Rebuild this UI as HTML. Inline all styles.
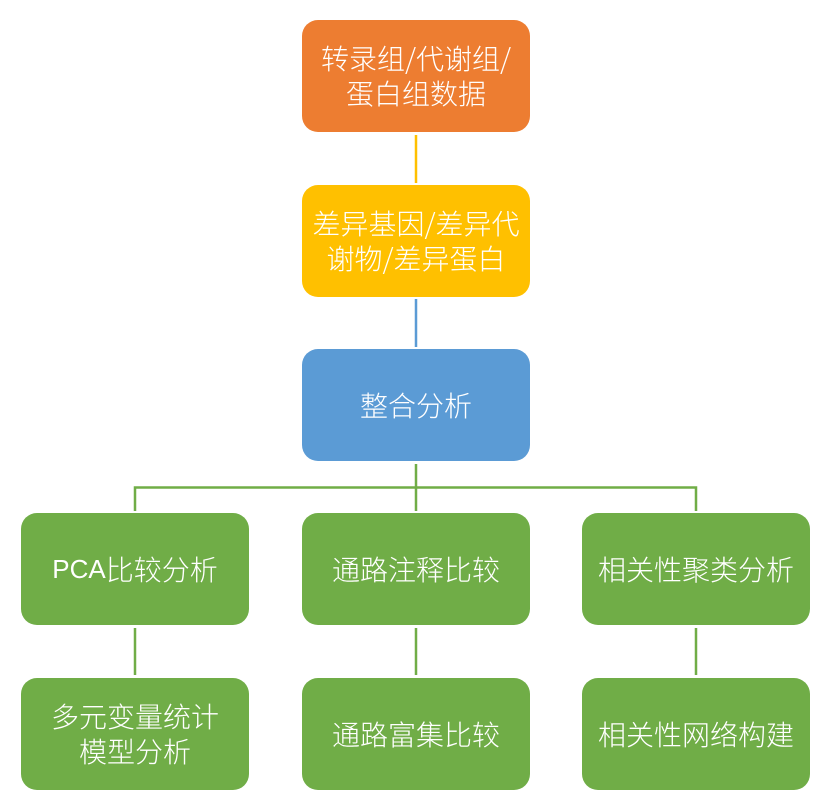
<!DOCTYPE html>
<html><head><meta charset="utf-8"><style>
html,body{margin:0;padding:0;background:#fff;}
body{width:827px;height:806px;position:relative;overflow:hidden;font-family:"Liberation Sans","Noto Sans CJK SC",sans-serif;}
.b{position:absolute;width:228px;height:112px;border-radius:16px;color:#fff;font-size:28px;line-height:35px;display:flex;align-items:center;justify-content:center;text-align:center;font-family:"Noto Sans CJK SC","Liberation Sans",sans-serif;font-weight:300;}
.o{background:#ED7D31}.y{background:#FFC000}.bl{background:#5B9BD5}.g{background:#70AD47}
svg{position:absolute;left:0;top:0}
</style></head><body>
<svg width="827" height="806">
<line x1="416" y1="135" x2="416" y2="183" stroke="#FFC000" stroke-width="2.5"/>
<line x1="416" y1="299" x2="416" y2="347" stroke="#5B9BD5" stroke-width="2.5"/>
<g stroke="#70AD47" stroke-width="2.5" fill="none">
<line x1="416" y1="464" x2="416" y2="511"/>
<polyline points="135,511 135,487.5 696,487.5 696,511"/>
<line x1="135" y1="628" x2="135" y2="675"/>
<line x1="416" y1="628" x2="416" y2="675"/>
<line x1="696" y1="628" x2="696" y2="675"/>
</g>
</svg>
<div class="b o" style="left:302px;top:20px">转录组/代谢组/<br>蛋白组数据</div>
<div class="b y" style="left:302px;top:185px">差异基因/差异代<br>谢物/差异蛋白</div>
<div class="b bl" style="left:302px;top:349px">整合分析</div>
<div class="b g" style="left:21px;top:513px"><span style="font-family:'Liberation Sans',sans-serif;font-size:26px">PCA</span>比较分析</div>
<div class="b g" style="left:302px;top:513px">通路注释比较</div>
<div class="b g" style="left:582px;top:513px">相关性聚类分析</div>
<div class="b g" style="left:21px;top:678px">多元变量统计<br>模型分析</div>
<div class="b g" style="left:302px;top:678px">通路富集比较</div>
<div class="b g" style="left:582px;top:678px">相关性网络构建</div>
</body></html>
